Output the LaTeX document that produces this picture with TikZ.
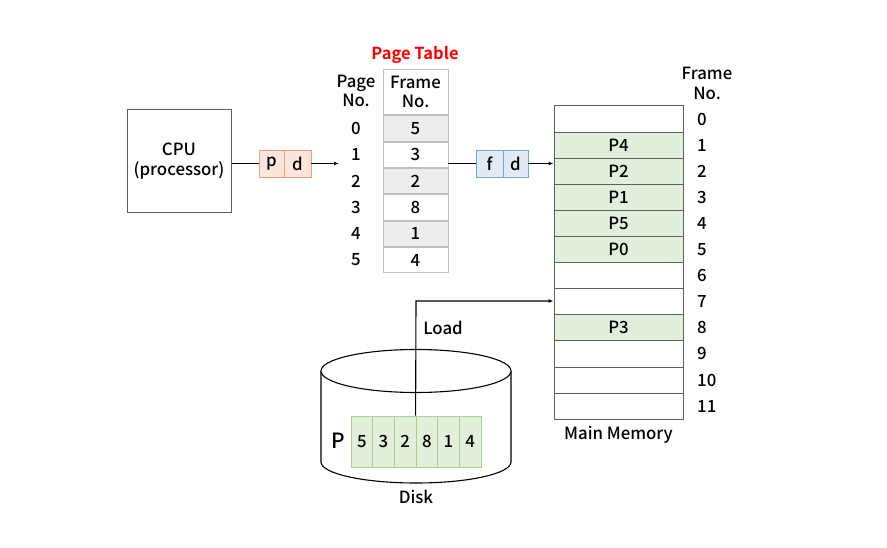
\documentclass[tikz,border=0pt]{standalone}
\usepackage{fontspec}
\setmainfont{Noto Sans CJK KR}[UprightFont=* Medium, BoldFont=* Bold]
\usetikzlibrary{arrows.meta}
\definecolor{pdfill}{HTML}{FBE5DD}
\definecolor{pdline}{HTML}{F4A06A}
\definecolor{fdfill}{HTML}{E2EAF5}
\definecolor{fdline}{HTML}{6FA8DC}
\definecolor{grn}{HTML}{E2EFDA}
\definecolor{grnline}{HTML}{A9D18E}
\definecolor{tgray}{HTML}{EDEDED}
\definecolor{tline}{HTML}{C0C0C0}
\definecolor{mline}{HTML}{606060}
\begin{document}
\begin{tikzpicture}[x=1pt,y=-1pt,
  txt/.style={font=\fontsize{16.8}{18}\selectfont, inner sep=0pt},
  conn/.style={line width=1.1pt},
  arr/.style={conn,-{Latex[length=5pt,width=4pt]}},
  mem/.style={draw=mline, line width=1pt},
  cell/.style={draw=tline, line width=0.8pt}]
\useasboundingbox (0,0) rectangle (887,548);
% CPU
\node[draw=mline, line width=1pt, minimum width=104pt, minimum height=103pt, inner sep=0pt, align=center, font=\fontsize{16.8}{20}\selectfont] (cpu) at (179,161.5) {CPU\\(processor)};
% p d
\node[draw=pdline, fill=pdfill, line width=0.8pt, minimum width=25pt, minimum height=27pt, inner sep=0pt, txt] (p) at (271.5,163.5) {p};
\node[draw=pdline, fill=pdfill, line width=0.8pt, minimum width=27pt, minimum height=27pt, inner sep=0pt, txt] (d) at (297.5,163.5) {d};
\coordinate (pt) at (339,163.5);
\draw[conn] (cpu.east |- p.west) -- (p.west);
\draw[arr] (d.east) -- (pt);
% page table
\node[txt, text=red, font=\bfseries\fontsize{16.5}{18}\selectfont] (ptitle) at (415,55) {Page Table};
\node[txt, align=center, font=\fontsize{16.8}{19}\selectfont] (pno) at (356,91) {Page\\No.};
\node[cell, minimum width=65pt, minimum height=45pt, inner sep=0pt, align=center, font=\fontsize{16.8}{19}\selectfont] (fhead) at (415.5,91.5) {Frame\\No.};
\foreach \i/\v in {0/5,1/3,2/2,3/8,4/1,5/4} {
  \pgfmathsetmacro{\yy}{128.5+26.3*\i}
  \pgfmathtruncatemacro{\odd}{mod(\i,2)}
  \ifnum\odd=0
    \node[cell, fill=tgray, minimum width=65pt, minimum height=25.3pt, inner sep=0pt, txt] (t\i) at (415.5,\yy) {\v};
  \else
    \node[cell, fill=white, minimum width=65pt, minimum height=25.3pt, inner sep=0pt, txt] (t\i) at (415.5,\yy) {\v};
  \fi
  \node[txt] (pn\i) at (356,\yy) {\i};
}
% f d
\node[draw=fdline, fill=fdfill, line width=0.8pt, minimum width=27pt, minimum height=27pt, inner sep=0pt, txt] (f) at (489.5,163.5) {f};
\node[draw=fdline, fill=fdfill, line width=0.8pt, minimum width=25pt, minimum height=27pt, inner sep=0pt, txt] (d2) at (515.5,163.5) {d};
\draw[conn] (t1.east |- f.west) -- (f.west);
% memory
\node[txt, align=center, font=\fontsize{16.8}{20}\selectfont] (fno) at (707,83) {Frame\\No.};
\foreach \i/\lab in {0/,1/P4,2/P2,3/P1,4/P5,5/P0,6/,7/,8/P3,9/,10/,11/} {
  \pgfmathsetmacro{\yy}{106+26.1*\i+13.05}
  \ifx\lab\empty
    \node[mem, fill=white, minimum width=129pt, minimum height=26.1pt, inner sep=0pt, txt] (m\i) at (618.5,\yy) {};
  \else
    \node[mem, fill=grn, minimum width=129pt, minimum height=26.1pt, inner sep=0pt, txt] (m\i) at (618.5,\yy) {\lab};
  \fi
  \node[txt, anchor=west] (fn\i) at (697,\yy) {\i};
}
\draw[arr] (d2.east) -- (m2.west |- d2.east);
\node[txt] (mmlab) at (618.5,435) {Main Memory};
% disk
\draw[line width=1.1pt, fill=white] (321,371) -- (321,462) arc[start angle=180, end angle=0, x radius=95, y radius=21] -- (511,371);
\draw[line width=1.1pt, fill=white] (416,371) ellipse[x radius=95, y radius=21.5];
\node[txt] (disklab) at (416,497) {Disk};
\node[txt, font=\fontsize{21}{24}\selectfont] (plab) at (338,441) {P};
\foreach \i/\v in {0/5,1/3,2/2,3/8,4/1,5/4} {
  \pgfmathsetmacro{\xx}{351+21.67*\i+10.83}
  \node[draw=grnline, fill=grn, line width=0.8pt, minimum width=21.67pt, minimum height=51pt, inner sep=0pt, txt] (dc\i) at (\xx,441.5) {\v};
}
\coordinate (bend) at (416,301);
\draw[arr] (dc3.north west) -- (bend) -- (m7.west |- bend);
\node[txt] (loadlab) at (443,328) {Load};
\end{tikzpicture}
\end{document}
